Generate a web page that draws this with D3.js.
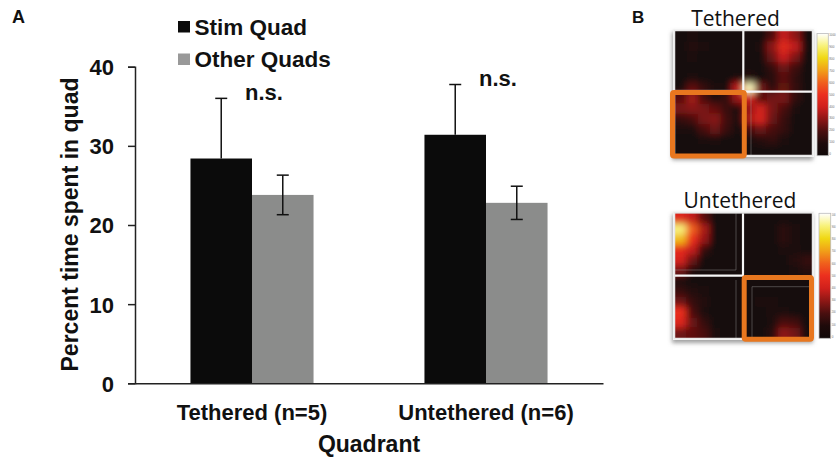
<!DOCTYPE html>
<html>
<head>
<meta charset="utf-8">
<script src="https://cdn.jsdelivr.net/npm/d3@7"></script>
<style>
  html, body { margin: 0; padding: 0; background: #fff; }
  svg { display: block; }
  .bold { font-family: "Liberation Sans", Arial, sans-serif; font-weight: bold; fill: #111; }
</style>
</head>
<body>
<svg id="chart" width="837" height="464"></svg>
<script>
// ---------------- DATA ----------------
const groups = ["Tethered (n=5)", "Untethered (n=6)"];
const seriesNames = ["Stim Quad", "Other Quads"];
const stimMeans = [28.4, 31.4];
const stimErrors = [7.6, 6.35];
const otherMeans = [23.8, 22.8];
const otherErrors = [2.5, 2.1];
const yTicks = [0, 10, 20, 30, 40];
const sigLabels = ["n.s.", "n.s."];
const heatTitles = ["Tethered", "Untethered"];
const colorbarTicks = [0, 100, 200, 300, 400, 500, 600, 700, 800, 900, 1000];

// occupancy heat maps (12 x 12 grid, 0-1000 scale)
const heatTethered = [
  [ 40, 90, 60, 30, 20, 20, 30, 60,200,380,300, 40],
  [ 50,110, 70, 30, 20, 20, 30, 80,300,460,380, 50],
  [ 40, 70, 50, 30, 20, 20, 30, 60,250,390,280, 40],
  [ 30, 50, 40, 30, 20, 30, 40, 40,150,250,180, 30],
  [ 40, 80, 60, 40, 40, 80,120, 40,120,220,140, 30],
  [ 60,230,150, 80,100,380,950,260,130,240,150, 30],
  [220,330,190,100,150,320,420,210,260,270,140, 30],
  [270,290,270,230,160,100,320,400,270,200,100, 20],
  [150,190,270,290,180, 80,350,420,250,160, 60, 20],
  [ 80,100,190,250,160, 50,190,250,200,150, 50, 20],
  [ 40, 50, 80,100, 60, 30, 80,120,150,100, 30, 20],
  [ 30, 30, 40, 40, 30, 30, 40, 50, 60, 50, 30, 20]
];
const heatUntethered = [
  [450,380,220, 40, 20, 20, 20, 30, 40, 60, 40, 30],
  [900,600,350, 60, 20, 20, 20, 40, 60,130, 80, 30],
  [750,500,320, 60, 20, 20, 20, 40, 60,130, 90, 40],
  [480,380,150, 40, 20, 20, 20, 30, 40, 80, 90, 60],
  [420,250, 60, 30, 20, 20, 20, 30, 40, 60,120,150],
  [260,110, 40, 30, 20, 20, 20, 20, 30, 40, 90,120],
  [ 80, 60, 40, 30, 20, 20, 20, 20, 30, 30, 40, 40],
  [150,110, 90, 40, 20, 20, 20, 40, 40, 30, 30, 30],
  [250,150,110, 60, 20, 20, 20, 80, 90, 40, 30, 30],
  [500,200, 90, 40, 20, 20, 30, 60, 90, 90, 60, 40],
  [450,250,150, 60, 20, 20, 30, 40, 90,200,180, 60],
  [250,230,200, 80, 20, 20, 30, 40,120,300,260, 60]
];

// ---------------- PANEL A: bar chart ----------------
const svg = d3.select("#chart");
const defs = svg.append("defs");

const x0 = d3.scaleBand().domain(groups).range([135, 603]).paddingInner(0.474).paddingOuter(0.237);
const x1 = d3.scaleBand().domain(seriesNames).range([0, x0.bandwidth()]);
const y = d3.scaleLinear().domain([0, 40]).range([383.3, 66.7]);
const barColor = d3.scaleOrdinal().domain(seriesNames).range(["#0b0b0b", "#8b8c8b"]);
const legendColor = d3.scaleOrdinal().domain(seriesNames).range(["#0b0b0b", "#999999"]);

const rows = groups.map((g, i) => ({
  group: g,
  values: [
    { s: seriesNames[0], v: stimMeans[i], e: stimErrors[i] },
    { s: seriesNames[1], v: otherMeans[i], e: otherErrors[i] }
  ]
}));

const gA = svg.append("g");

const gGroups = gA.selectAll(".grp").data(rows).join("g")
  .attr("transform", d => `translate(${x0(d.group)},0)`);

gGroups.selectAll("rect").data(d => d.values).join("rect")
  .attr("x", d => x1(d.s))
  .attr("width", x1.bandwidth())
  .attr("y", d => y(d.v))
  .attr("height", d => y(0) - y(d.v))
  .attr("fill", d => barColor(d.s));

const capW = 12;
const cx = d => x1(d.s) + x1.bandwidth() / 2;
const isStim = d => d.s === seriesNames[0];
const err = gGroups.selectAll(".err").data(d => d.values).join("g").attr("class", "err")
  .attr("stroke", "#111").attr("stroke-width", 1.5);
err.append("line")
  .attr("x1", cx).attr("x2", cx)
  .attr("y1", d => isStim(d) ? y(d.v) : y(d.v - d.e)).attr("y2", d => y(d.v + d.e));
err.append("line")
  .attr("x1", d => cx(d) - capW / 2).attr("x2", d => cx(d) + capW / 2)
  .attr("y1", d => y(d.v + d.e)).attr("y2", d => y(d.v + d.e));
err.filter(d => !isStim(d)).append("line")
  .attr("x1", d => cx(d) - capW / 2).attr("x2", d => cx(d) + capW / 2)
  .attr("y1", d => y(d.v - d.e)).attr("y2", d => y(d.v - d.e));

// significance labels
gGroups.append("text").attr("class", "bold")
  .attr("x", x0.bandwidth() / 2 + 12)
  .attr("y", (d) => y(d3.max(d.values, v => v.v + v.e)) + 1.5)
  .attr("text-anchor", "middle")
  .style("font-size", "22px")
  .text((d, i) => sigLabels[i]);

// y axis
const yAxis = gA.append("g").attr("transform", "translate(135,0)")
  .call(d3.axisLeft(y).tickValues(yTicks).tickSize(7).tickPadding(14).tickFormat(d3.format("d")));
yAxis.select(".domain").attr("stroke", "#222").attr("stroke-width", 1.5);
yAxis.selectAll(".tick line").attr("stroke", "#222").attr("stroke-width", 1.5);
yAxis.selectAll(".tick text").attr("class", "bold").style("font-size", "22px").attr("dy", "0.36em");

// x axis
const xAxis = gA.append("g").attr("transform", `translate(0,${y(0)})`)
  .call(d3.axisBottom(x0).tickSize(0).tickSizeOuter(0));
xAxis.select(".domain").attr("stroke", "#222").attr("stroke-width", 1.5);
xAxis.selectAll(".tick text").attr("class", "bold").style("font-size", "22px")
  .attr("y", 37).attr("dy", 0);

// axis titles
gA.append("text").attr("class", "bold")
  .attr("transform", "translate(78,224.5) rotate(-90)")
  .attr("text-anchor", "middle").style("font-size", "23px")
  .text("Percent time spent in quad");
gA.append("text").attr("class", "bold")
  .attr("x", 369).attr("y", 452).attr("text-anchor", "middle").style("font-size", "23px")
  .text("Quadrant");

// legend
const leg = gA.selectAll(".leg").data(seriesNames).join("g")
  .attr("transform", (d, i) => `translate(178,${21 + i * 32.5})`);
leg.append("rect").attr("width", 12).attr("height", 11.5).attr("fill", d => legendColor(d));
leg.append("text").attr("class", "bold").attr("x", 16.5).attr("y", 13.8)
  .style("font-size", "22.5px").text(d => d);

// panel label
svg.append("text").attr("class", "bold").attr("x", 12).attr("y", 23)
  .style("font-size", "18px").text("A");

// ---------------- PANEL B: heat maps ----------------
svg.append("text").attr("class", "bold").attr("x", 632).attr("y", 22.5)
  .style("font-size", "17px").text("B");

const heatColor = d3.scaleLinear()
  .domain([0, 100, 200, 300, 400, 500, 600, 700, 800, 900, 1000])
  .range(["#100808", "#1e0a0a", "#4a0f0f", "#8e1715", "#d0201c", "#ec2f1e", "#f0601c", "#f1a018", "#f0d814", "#f8f27a", "#ffffff"])
  .clamp(true);

const blur = defs.append("filter").attr("id", "hblur")
  .attr("x", "-20%").attr("y", "-20%").attr("width", "140%").attr("height", "140%");
blur.append("feGaussianBlur").attr("stdDeviation", 3.8);

const shadow = defs.append("filter").attr("id", "hshadow")
  .attr("x", "-10%").attr("y", "-10%").attr("width", "125%").attr("height", "130%");
shadow.append("feDropShadow").attr("dx", -1).attr("dy", 3).attr("stdDeviation", 2)
  .attr("flood-color", "#777").attr("flood-opacity", 0.7);

const grad = defs.append("linearGradient").attr("id", "cbar")
  .attr("x1", 0).attr("y1", 1).attr("x2", 0).attr("y2", 0);
d3.range(0, 1001, 50).forEach(v => {
  grad.append("stop").attr("offset", v / 1000).attr("stop-color", heatColor(v));
});

const maps = [
  {
    title: heatTitles[0], grid: heatTethered,
    titleX: 735.5, titleY: 25.5,
    box: [675, 31, 812, 155],
    whiteLines: [[743.3, 31, 743.3, 91.6], [743.3, 91.6, 812, 91.6]],
    thinLines: [[751, 92, 751, 155], [675, 90, 743, 90]],
    orange: [672.5, 92.5, 744.3, 156],
    cbar: [817, 33.5, 828.3, 155.7]
  },
  {
    title: heatTitles[1], grid: heatUntethered,
    titleX: 740, titleY: 208.3,
    box: [675, 213.3, 812, 338],
    whiteLines: [[743, 213.3, 743, 276], [675, 275.7, 743, 275.7]],
    thinLines: [[736, 213.3, 736, 270], [675, 270, 736, 270], [736, 280, 736, 338], [752, 286.7, 812, 286.7], [752, 286.7, 752, 338]],
    orange: [744.2, 277.5, 811.5, 339.2],
    cbar: [819, 213.3, 830.7, 338.3]
  }
];

maps.forEach((m, mi) => {
  const g = svg.append("g");
  const [bx0, by0, bx1, by1] = m.box;

  g.append("text").attr("x", m.titleX).attr("y", m.titleY).attr("text-anchor", "middle")
    .style("font-family", "'Open Sans', 'Noto Sans', sans-serif").style("font-size", "21px")
    .style("fill", "#111").text(m.title);

  // frame with shadow
  g.append("rect").attr("x", bx0 - 2).attr("y", by0 - 2).attr("width", bx1 - bx0 + 4).attr("height", by1 - by0 + 4)
    .attr("fill", "#f4f4f4").attr("filter", "url(#hshadow)");

  const clipId = "hclip" + mi;
  defs.append("clipPath").attr("id", clipId).append("rect")
    .attr("x", bx0).attr("y", by0).attr("width", bx1 - bx0).attr("height", by1 - by0);

  const n = m.grid.length;
  const xs = d3.scaleLinear().domain([0, n]).range([bx0, bx1]);
  const ys = d3.scaleLinear().domain([0, n]).range([by0, by1]);
  const cells = [];
  m.grid.forEach((row, r) => row.forEach((v, c) => cells.push({ r, c, v })));
  const ext = 14;

  const clipped = g.append("g").attr("clip-path", `url(#${clipId})`);
  clipped.append("rect").attr("x", bx0).attr("y", by0).attr("width", bx1 - bx0).attr("height", by1 - by0)
    .attr("fill", heatColor(20));
  clipped.append("g").attr("filter", "url(#hblur)")
    .selectAll("rect").data(cells).join("rect")
    .attr("x", d => xs(d.c) - (d.c === 0 ? ext : 0))
    .attr("y", d => ys(d.r) - (d.r === 0 ? ext : 0))
    .attr("width", d => xs(d.c + 1) - xs(d.c) + (d.c === 0 || d.c === n - 1 ? ext : 0) + 0.5)
    .attr("height", d => ys(d.r + 1) - ys(d.r) + (d.r === 0 || d.r === n - 1 ? ext : 0) + 0.5)
    .attr("fill", d => heatColor(d.v));

  // thin gray axis lines inside the quadrants
  g.selectAll(".thin").data(m.thinLines).join("line")
    .attr("x1", d => d[0]).attr("y1", d => d[1]).attr("x2", d => d[2]).attr("y2", d => d[3])
    .attr("stroke", "#9a9a9a").attr("stroke-width", 0.7).attr("opacity", 0.6);

  // white quadrant dividers
  g.selectAll(".wl").data(m.whiteLines).join("line")
    .attr("x1", d => d[0]).attr("y1", d => d[1]).attr("x2", d => d[2]).attr("y2", d => d[3])
    .attr("stroke", "#f6f6f6").attr("stroke-width", 2.2);

  // outer light frame
  g.append("rect").attr("x", bx0 - 0.5).attr("y", by0 - 0.5).attr("width", bx1 - bx0 + 1).attr("height", by1 - by0 + 1)
    .attr("fill", "none").attr("stroke", "#e8e8e8").attr("stroke-width", 1.5);

  // orange stimulation quadrant box
  const [ox0, oy0, ox1, oy1] = m.orange;
  g.append("rect").attr("x", ox0).attr("y", oy0).attr("width", ox1 - ox0).attr("height", oy1 - oy0)
    .attr("rx", 1.5)
    .attr("fill", "none").attr("stroke", "#e8771f").attr("stroke-width", 5);

  // colour bar
  const [cx0, cy0, cx1, cy1] = m.cbar;
  g.append("rect").attr("x", cx0).attr("y", cy0).attr("width", cx1 - cx0).attr("height", cy1 - cy0)
    .attr("fill", "url(#cbar)").attr("stroke", "#bbb").attr("stroke-width", 0.8);
  const cs = d3.scaleLinear().domain([0, 1000]).range([cy1 - 1.5, cy0 + 1.5]);
  const fs = 3;
  const lx = cx1 + 1;
  g.selectAll(".cbt").data(colorbarTicks).join("text")
    .attr("x", lx).attr("y", d => cs(d)).attr("dy", "0.35em")
    .style("font-family", "'Liberation Sans', Arial, sans-serif").style("font-size", fs + "px")
    .style("fill", "#666")
    .each(function (d) {
      const natural = String(d).length * 0.556 * fs;
      const avail = 835.6 - lx;
      if (natural > avail) {
        d3.select(this).attr("textLength", avail).attr("lengthAdjust", "spacingAndGlyphs");
      }
    })
    .text(d => d);
});
</script>
</body>
</html>
